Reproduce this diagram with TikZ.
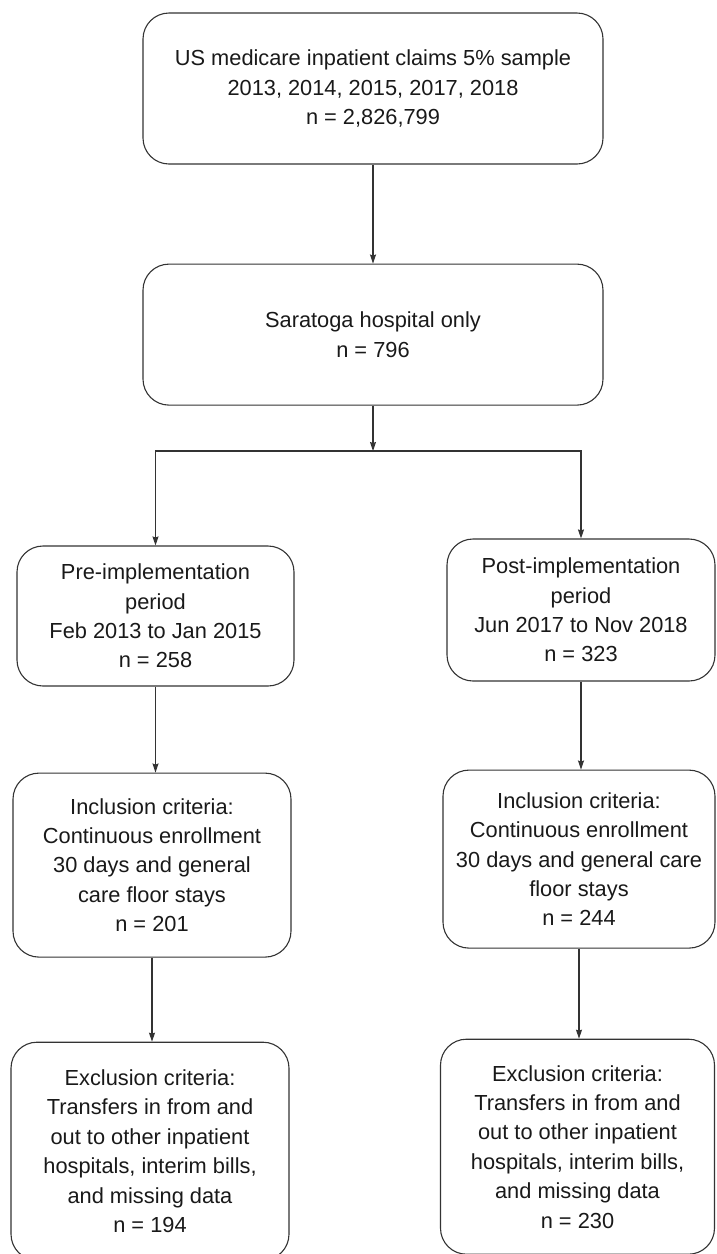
\documentclass[tikz,border=0pt]{standalone}
\usepackage{fontspec}
\setmainfont{Liberation Sans}
\usetikzlibrary{positioning,arrows.meta}

\begin{document}
\begin{tikzpicture}[x=1pt,y=-1pt]

% Define block styles
\tikzstyle{stage} = [rectangle, rounded corners=26pt, draw=black!80, line width=1.1pt, text=black!90, align=center, inner sep=0pt, font=\fontsize{21.8}{29.4}\selectfont]
\tikzstyle{arrow} = [line width=1.1pt, draw=black!80, ->, >={Stealth[length=9pt,width=6pt,inset=1pt]}]

\useasboundingbox (0,0) rectangle (716,1254);

% Define nodes
\node (claims) [stage, minimum width=460pt, minimum height=151pt] at (373,88.5) {US medicare inpatient claims 5\% sample\\2013, 2014, 2015, 2017, 2018\\n = 2,826,799};
\node (saratoga) [stage, below=99pt of claims, minimum width=460pt, minimum height=141pt] {Saratoga hospital only\\n = 796};

\node (pre) [stage, minimum width=277pt, minimum height=140pt] at (155.5,616) {Pre-implementation\\period\\Feb 2013 to Jan 2015\\n = 258};
\node (post) [stage, minimum width=268pt, minimum height=142pt] at (581,610) {Post-implementation\\period\\Jun 2017 to Nov 2018\\n = 323};

\node (inclpre) [stage, below=86pt of pre, xshift=-3.5pt, minimum width=278pt, minimum height=184pt] {Inclusion criteria:\\Continuous enrollment\\30 days and general\\care floor stays\\n = 201};
\node (inclpost) [stage, below=88pt of post, xshift=-2pt, minimum width=272pt, minimum height=178pt] {Inclusion criteria:\\Continuous enrollment\\30 days and general care\\floor stays\\n = 244};

\node (exclpre) [stage, below=84pt of inclpre, xshift=-2pt, minimum width=278pt, minimum height=218pt] {Exclusion criteria:\\Transfers in from and\\out to other inpatient\\hospitals, interim bills,\\and missing data\\n = 194};
\node (exclpost) [stage, below=90pt of inclpost, xshift=-1.5pt, minimum width=274pt, minimum height=215pt] {Exclusion criteria:\\Transfers in from and\\out to other inpatient\\hospitals, interim bills,\\and missing data\\n = 230};

\coordinate (split) at (373,451);

% Draw arrows
\draw [arrow] (claims.south) -- (saratoga.north);
\draw [arrow] (saratoga.south) -- (split);
\draw [arrow] (split) -| (pre.north);
\draw [arrow] (split) -| (post.north);
\draw [arrow] (pre.south) -- (pre.south |- inclpre.north);
\draw [arrow] (post.south) -- (post.south |- inclpost.north);
\draw [arrow] (inclpre.south) -- (inclpre.south |- exclpre.north);
\draw [arrow] (inclpost.south) -- (inclpost.south |- exclpost.north);

\end{tikzpicture}
\end{document}
